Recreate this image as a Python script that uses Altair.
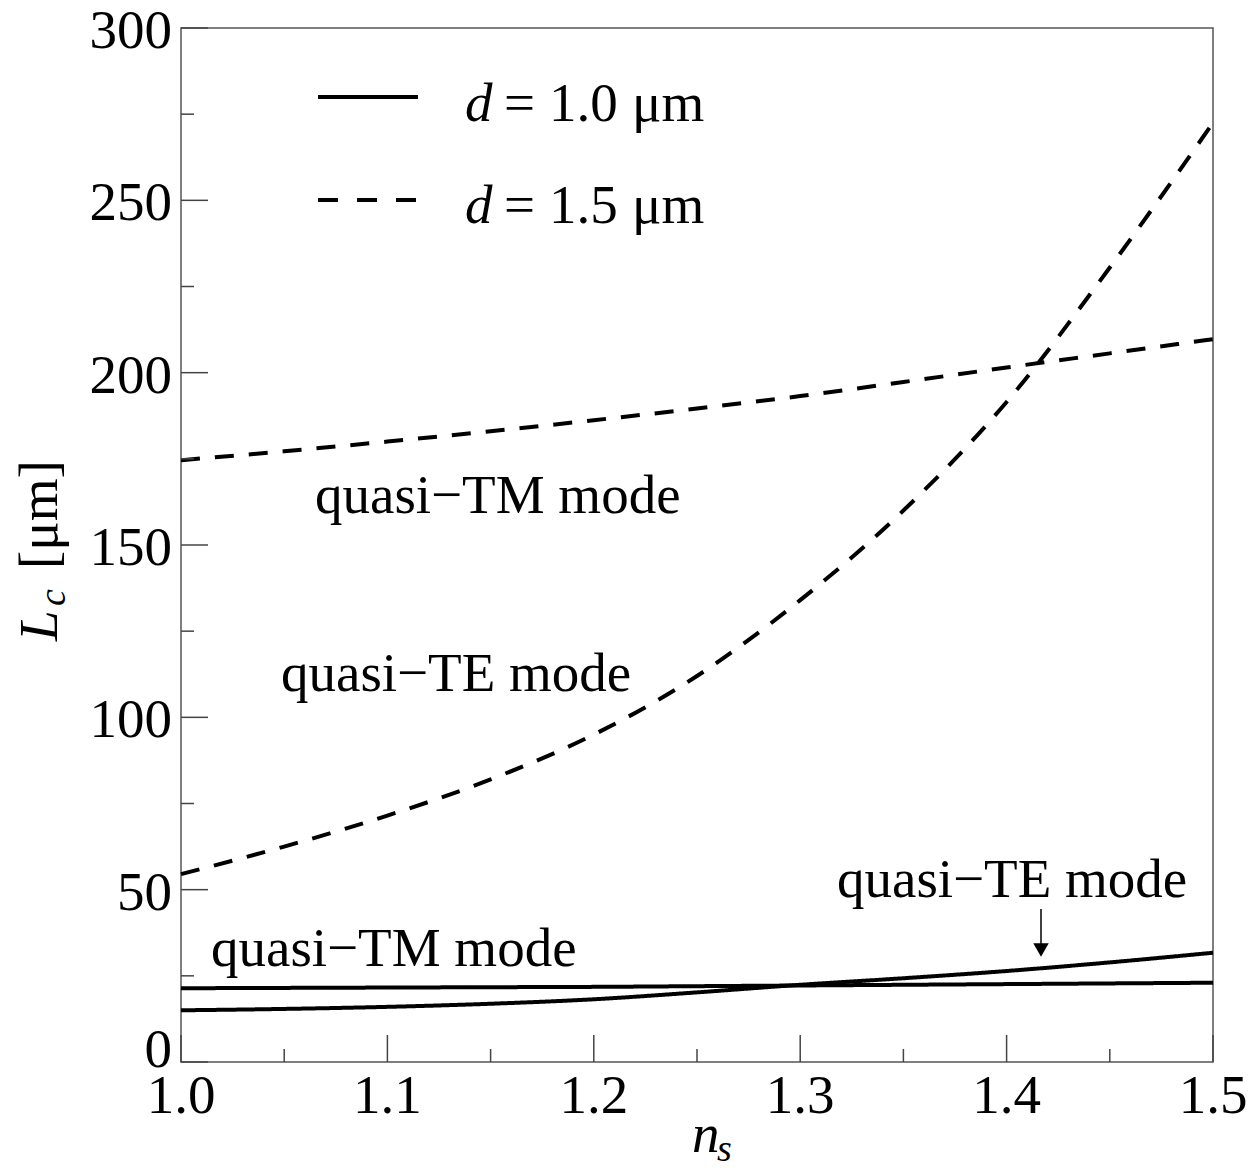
import altair as alt
import pandas as pd

# ---- data ----
n_values = [1.00, 1.05, 1.10, 1.15, 1.20, 1.25, 1.30, 1.35, 1.40, 1.45, 1.50]
lc_tm_d10 = [21.4, 21.5, 21.6, 21.7, 21.8, 22.0, 22.2, 22.4, 22.6, 22.8, 23.0]
lc_te_d10 = [15.0, 15.4, 16.0, 16.9, 18.2, 20.2, 22.4, 24.3, 26.4, 28.9, 31.7]
lc_tm_d15 = [174.6, 177.2, 180.0, 183.0, 186.2, 189.6, 193.2, 197.3, 201.5, 205.6, 209.7]
lc_te_d15 = [54.5, 62.5, 71.5, 82.0, 95.0, 112.0, 134.0, 160.0, 191.5, 230.5, 272.5]

x_major_ticks = [1.0, 1.1, 1.2, 1.3, 1.4, 1.5]
x_tick_labels = ["1.0", "1.1", "1.2", "1.3", "1.4", "1.5"]
x_minor_ticks = [1.05, 1.15, 1.25, 1.35, 1.45]
y_major_ticks = [0, 50, 100, 150, 200, 250, 300]
y_tick_labels = ["0", "50", "100", "150", "200", "250", "300"]
y_minor_ticks = [25, 75, 125, 175, 225, 275]

d_values = ["1.0", "1.5"]
tm_label = "quasi−TM mode"
te_label = "quasi−TE mode"

rows = []
for d, mode, vals in [("1.0", "TM", lc_tm_d10), ("1.0", "TE", lc_te_d10),
                      ("1.5", "TM", lc_tm_d15), ("1.5", "TE", lc_te_d15)]:
    for n, L in zip(n_values, vals):
        rows.append({"n": n, "L": L, "d": d, "mode": mode})
df = pd.DataFrame(rows)

W, H = 1032, 1034
FONT = "Liberation Serif"
FS = 55
SUB = 38
AX = "#444"

xs = alt.Scale(domain=[1.0, 1.5], nice=False, zero=False)
ys = alt.Scale(domain=[0, 300], nice=False, zero=True)

curves = alt.Chart(df).mark_line(color="black", strokeWidth=4, interpolate="monotone").encode(
    x=alt.X("n:Q", scale=xs, axis=None),
    y=alt.Y("L:Q", scale=ys, axis=None),
    strokeDash=alt.StrokeDash("d:N", scale=alt.Scale(domain=d_values, range=[[1, 0], [19, 15]]),
                              legend=None),
    detail="mode:N",
)


def xticks(vals, length):
    return alt.Chart(pd.DataFrame({"v": vals})).mark_rule(color=AX, strokeWidth=1.5).encode(
        x=alt.X("v:Q", scale=xs, axis=None), y=alt.value(H), y2=alt.value(H - length))


def yticks(vals, length):
    return alt.Chart(pd.DataFrame({"v": vals})).mark_rule(color=AX, strokeWidth=1.5).encode(
        y=alt.Y("v:Q", scale=ys, axis=None), x=alt.value(0), x2=alt.value(length))


x_labels = alt.Chart(pd.DataFrame({"v": x_major_ticks, "t": x_tick_labels})).mark_text(
    font=FONT, fontSize=FS, align="center", baseline="alphabetic", color="black").encode(
    x=alt.X("v:Q", scale=xs, axis=None), y=alt.value(H + 51), text="t:N")


def ylabels(vals, texts, dy):
    return alt.Chart(pd.DataFrame({"v": vals, "t": texts})).mark_text(
        font=FONT, fontSize=FS, align="right", baseline="middle", dy=dy, color="black").encode(
        y=alt.Y("v:Q", scale=ys, axis=None), x=alt.value(-9), text="t:N")


def txt(text, x, y, italic=False, size=FS, angle=0):
    kw = dict(font=FONT, fontSize=size, fontStyle="italic" if italic else "normal",
              align="left", baseline="alphabetic", color="black")
    if angle:
        kw["angle"] = angle
    return alt.Chart(pd.DataFrame({"t": [text]})).mark_text(**kw).encode(
        text="t:N", x=alt.value(x), y=alt.value(y))


one = pd.DataFrame({"a": [0]})
leg_solid = alt.Chart(one).mark_rule(color="black", strokeWidth=4).encode(
    x=alt.value(137), x2=alt.value(237), y=alt.value(69))
leg_dash = alt.Chart(one).mark_rule(color="black", strokeWidth=4, strokeDash=[20, 19]).encode(
    x=alt.value(137), x2=alt.value(237), y=alt.value(172))

arrow_shaft = alt.Chart(one).mark_rule(color="black", strokeWidth=1.5).encode(
    x=alt.value(860), y=alt.value(881), y2=alt.value(917))
arrow_head = alt.Chart(one).mark_point(shape="triangle-down", filled=True, size=240,
                                       color="black", opacity=1).encode(
    x=alt.value(860), y=alt.value(922))

layers = [
    curves,
    xticks(x_major_ticks, 27), xticks(x_minor_ticks, 13),
    yticks(y_major_ticks, 27), yticks(y_minor_ticks, 13),
    x_labels,
    ylabels(y_major_ticks[1:], y_tick_labels[1:], 3),
    ylabels(y_major_ticks[:1], y_tick_labels[:1], -12),
    leg_solid, leg_dash,
    txt("d", 284, 93, italic=True), txt("=", 323, 93), txt(d_values[0], 368, 93), txt("μm", 451, 93),
    txt("d", 284, 195, italic=True), txt("=", 323, 195), txt(d_values[1], 368, 195), txt("μm", 451, 195),
    txt(tm_label, 134, 485), txt(te_label, 100, 663),
    txt(tm_label, 30, 938), txt(te_label, 656, 869),
    arrow_shaft, arrow_head,
    txt("n", 511, 1124, italic=True), txt("s", 536, 1133, italic=True, size=SUB),
    txt("L", -124, 613, italic=True, angle=270),
    txt("c", -116, 578, italic=True, size=SUB, angle=270),
    txt("[μm]", -124, 541, angle=270),
]

chart = alt.layer(*layers).properties(
    width=W, height=H,
    autosize=alt.AutoSizeParams(type="none"),
    padding={"left": 173, "top": 20, "right": 35, "bottom": 112},
    background="white",
).configure_view(stroke="#555", strokeWidth=1.5)

chart.save("out.html", embed_options={"renderer": "svg", "actions": False})
